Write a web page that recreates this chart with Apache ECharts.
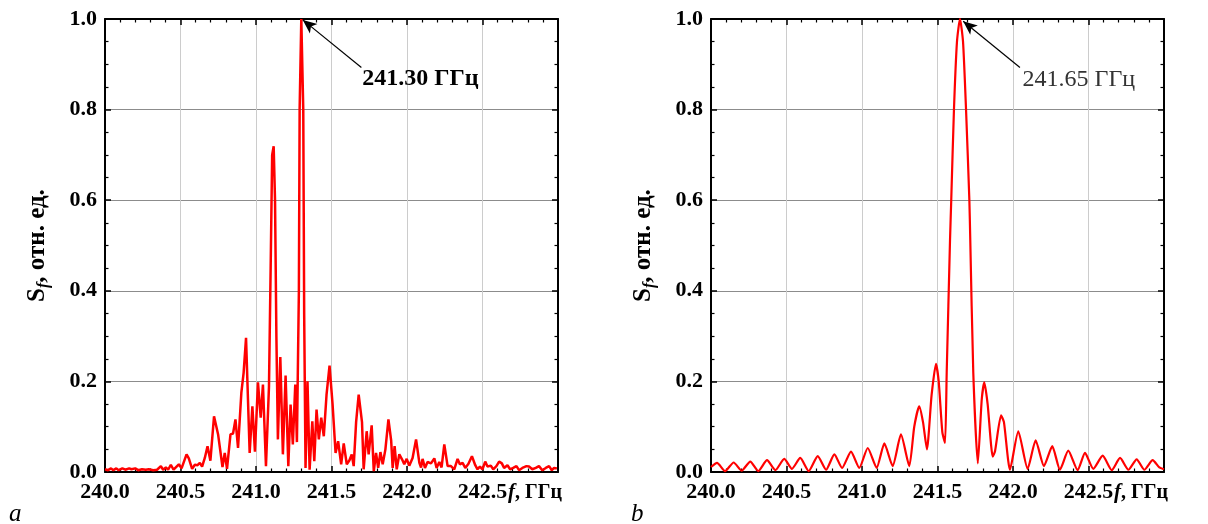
<!DOCTYPE html>
<html>
<head>
<meta charset="utf-8">
<script src="https://cdn.jsdelivr.net/npm/echarts@6/dist/echarts.min.js"></script>
<style>
  html, body { margin: 0; padding: 0; background: #fff; }
  #chart { width: 1208px; height: 524px; }
</style>
</head>
<body>
<div id="chart"></div>
<script>
// spectrum (a), frequency in GHz and relative amplitude
const freqA = [
  240.000,240.020,240.040,240.055,240.075,240.090,240.115,240.135,240.160,240.175,
  240.200,240.220,240.245,240.270,240.290,240.320,240.345,240.370,240.385,240.403,
  240.418,240.436,240.454,240.467,240.489,240.507,240.540,240.555,240.577,240.595,
  240.613,240.628,240.643,240.661,240.679,240.698,240.722,240.749,240.778,240.793,
  240.808,240.831,240.848,240.864,240.881,240.903,240.918,240.934,240.958,240.976,
  240.993,241.013,241.031,241.046,241.066,241.086,241.097,241.107,241.117,241.126,
  241.135,241.145,241.161,241.178,241.196,241.214,241.229,241.244,241.260,241.271,
  241.284,241.289,241.300,241.313,241.319,241.328,241.341,241.355,241.373,241.386,
  241.401,241.416,241.432,241.449,241.467,241.487,241.507,241.527,241.544,241.564,
  241.581,241.601,241.619,241.634,241.647,241.663,241.680,241.702,241.713,241.733,
  241.746,241.766,241.780,241.795,241.809,241.824,241.839,241.857,241.877,241.895,
  241.905,241.918,241.932,241.949,241.967,241.982,241.998,242.015,242.037,242.060,
  242.082,242.093,242.103,242.119,242.136,242.159,242.181,242.196,242.214,242.229,
  242.247,242.269,242.291,242.313,242.335,242.350,242.368,242.386,242.407,242.430,
  242.452,242.467,242.483,242.500,242.518,242.533,242.555,242.571,242.592,242.610,
  242.628,242.643,242.665,242.683,242.703,242.725,242.742,242.764,242.791,242.808,
  242.830,242.853,242.874,242.896,242.919,242.941,242.959,242.974,242.993
];
const specA = [
  0.006,0.004,0.008,0.004,0.008,0.004,0.008,0.005,0.008,0.006,
  0.008,0.004,0.006,0.005,0.006,0.004,0.005,0.013,0.005,0.010,
  0.005,0.016,0.005,0.007,0.017,0.008,0.039,0.030,0.007,0.016,
  0.015,0.020,0.012,0.031,0.057,0.025,0.123,0.083,0.011,0.042,
  0.007,0.083,0.085,0.116,0.053,0.175,0.219,0.296,0.042,0.145,
  0.045,0.198,0.120,0.193,0.013,0.189,0.450,0.700,0.719,0.600,
  0.300,0.072,0.254,0.039,0.213,0.013,0.149,0.061,0.193,0.066,
  0.400,0.800,1.000,0.800,0.350,0.009,0.200,0.005,0.112,0.024,
  0.138,0.072,0.120,0.079,0.170,0.235,0.150,0.042,0.068,0.017,
  0.063,0.017,0.026,0.039,0.013,0.110,0.171,0.110,0.006,0.090,
  0.039,0.103,0.002,0.042,0.009,0.044,0.017,0.050,0.116,0.070,
  0.009,0.057,0.006,0.039,0.028,0.017,0.029,0.014,0.031,0.072,
  0.020,0.010,0.029,0.009,0.022,0.019,0.030,0.009,0.022,0.010,
  0.061,0.013,0.013,0.006,0.029,0.017,0.020,0.009,0.018,0.035,
  0.015,0.006,0.012,0.006,0.023,0.012,0.014,0.006,0.013,0.023,
  0.019,0.009,0.015,0.006,0.009,0.013,0.004,0.009,0.013,0.012,
  0.006,0.009,0.013,0.004,0.009,0.013,0.004,0.009,0.008
];

// spectrum (b)
const freqB = [
  240.000,240.040,240.093,240.150,240.203,240.260,240.313,240.371,240.426,240.485,
  240.536,240.591,240.647,240.707,240.762,240.817,240.868,240.927,240.982,241.038,
  241.097,241.148,241.203,241.258,241.313,241.346,241.379,241.404,241.430,241.461,
  241.490,241.508,241.532,241.550,241.561,241.583,241.591,241.609,241.629,241.649,
  241.669,241.689,241.711,241.717,241.737,241.767,241.793,241.810,241.832,241.866,
  241.881,241.921,241.940,241.980,242.035,242.097,242.150,242.205,242.260,242.311,
  242.366,242.428,242.477,242.532,242.594,242.654,242.709,242.764,242.819,242.870,
  242.925,242.969,243.000
];
const specB = [
  0.011,0.020,0.002,0.021,0.003,0.023,0.002,0.026,0.004,0.029,
  0.007,0.031,0.002,0.035,0.005,0.039,0.009,0.045,0.009,0.053,
  0.009,0.063,0.013,0.083,0.013,0.100,0.145,0.110,0.050,0.170,
  0.239,0.200,0.088,0.064,0.220,0.513,0.600,0.800,0.950,1.000,
  0.950,0.800,0.600,0.513,0.219,0.019,0.160,0.198,0.150,0.034,
  0.046,0.125,0.110,0.005,0.090,0.007,0.070,0.013,0.057,0.005,
  0.047,0.004,0.042,0.007,0.036,0.004,0.031,0.005,0.028,0.005,
  0.026,0.010,0.006
];

const peakLabels = ['241.30 ГГц', '241.65 ГГц'];
const panelLetters = ['a', 'b'];

const serif = '"Liberation Serif", "Times New Roman", serif';
const chart = echarts.init(document.getElementById('chart'), null, { renderer: 'canvas' });

function xAxisPair(gi) {
  const common = {
    type: 'value', gridIndex: gi, min: 240, max: 243, interval: 0.5,
    axisLine: { onZero: false, lineStyle: { color: '#000', width: 2 } },
    axisTick: { inside: true, length: 6, lineStyle: { color: '#000', width: 1.5 } },
    minorTick: { show: true, splitNumber: 5, length: 3.5, lineStyle: { color: '#000', width: 1.2 } }
  };
  return [
    Object.assign({}, common, {
      position: 'bottom',
      splitLine: { show: true, lineStyle: { color: '#cccccc', width: 1 } },
      axisLabel: {
        color: '#000', fontFamily: serif, fontWeight: 'bold', fontSize: 22, margin: 9,
        interval: 0, showMaxLabel: false,
        formatter: v => v.toFixed(1)
      },
      // "f, ГГц" sits in the label row at the right end of the axis
      name: '{it|f}, ГГц',
      nameLocation: 'end',
      nameGap: 4,
      nameMoveOverlap: false,
      nameTextStyle: {
        color: '#000', fontFamily: serif, fontWeight: 'bold', fontSize: 20,
        align: 'right', verticalAlign: 'top', padding: [10, 0, 0, 0],
        rich: { it: { fontStyle: 'italic', fontWeight: 'bold', fontFamily: serif, fontSize: 21, color: '#000' } }
      }
    }),
    Object.assign({}, common, {
      position: 'top', axisLabel: { show: false }, splitLine: { show: false }
    })
  ];
}

function yAxisPair(gi) {
  const common = {
    type: 'value', gridIndex: gi, min: 0, max: 1, interval: 0.2,
    axisLine: { lineStyle: { color: '#000', width: 2 } },
    axisTick: { inside: true, length: 6, lineStyle: { color: '#000', width: 1.5 } },
    minorTick: { show: true, splitNumber: 4, length: 3.5, lineStyle: { color: '#000', width: 1.2 } }
  };
  const txt = { fontFamily: serif, fontWeight: 'bold', fontSize: 25, color: '#000' };
  return [
    Object.assign({}, common, {
      position: 'left',
      splitLine: { show: true, lineStyle: { color: '#8c8c8c', width: 1 } },
      axisLabel: { color: '#000', fontFamily: serif, fontWeight: 'bold', fontSize: 22, margin: 8,
        formatter: v => v.toFixed(1) },
      name: '{s|S}{sub|f}{n|, отн. ед.}',
      nameLocation: 'middle',
      nameGap: 53,
      nameTextStyle: {
        rich: {
          s: Object.assign({}, txt, { lineHeight: 28 }),
          sub: Object.assign({}, txt, { fontSize: 16, fontStyle: 'italic', verticalAlign: 'bottom', lineHeight: 16 }),
          n: Object.assign({}, txt, { lineHeight: 28 })
        }
      }
    }),
    Object.assign({}, common, {
      position: 'right', axisLabel: { show: false }, splitLine: { show: false }
    })
  ];
}

function annotation(tip, tail, textAt, label, bold) {
  return {
    markLine: {
      silent: true, animation: false,
      symbol: ['arrow', 'none'], symbolSize: [9, 14],
      label: { show: false },
      lineStyle: { color: '#000', width: 1.2, type: 'solid' },
      data: [[{ coord: tip }, { coord: tail }]]
    },
    markPoint: {
      silent: true, animation: false,
      symbol: 'circle', symbolSize: 1, itemStyle: { color: 'rgba(0,0,0,0)' },
      label: {
        show: true, position: 'right', distance: 0,
        formatter: label,
        fontFamily: serif, fontSize: 24,
        fontWeight: bold ? 'bold' : 'normal',
        color: bold ? '#000' : '#333'
      },
      data: [{ coord: textAt }]
    }
  };
}

const xs = xAxisPair(0).concat(xAxisPair(1));
const ys = yAxisPair(0).concat(yAxisPair(1));

const option = {
  animation: false,
  backgroundColor: '#fff',
  grid: [
    { left: 105, top: 19, width: 453, height: 453 },
    { left: 711, top: 19, width: 453, height: 453 }
  ],
  xAxis: xs,
  yAxis: ys,
  graphic: [
    { type: 'text', left: 9, top: 502, style: { text: panelLetters[0], font: 'italic 25px ' + serif, fill: '#000' } },
    { type: 'text', left: 631, top: 502, style: { text: panelLetters[1], font: 'italic 25px ' + serif, fill: '#000' } }
  ],
  series: [
    Object.assign({
      type: 'line', xAxisIndex: 0, yAxisIndex: 0,
      data: freqA.map((f, i) => [f, specA[i]]),
      showSymbol: false,
      lineStyle: { color: '#ff0000', width: 2.5 },
      z: 3
    }, annotation([241.31, 0.998], [241.698, 0.893], [241.70, 0.869], peakLabels[0], true)),
    Object.assign({
      type: 'line', xAxisIndex: 2, yAxisIndex: 2,
      data: freqB.map((f, i) => [f, specB[i]]),
      showSymbol: false,
      smooth: 0.2,
      lineStyle: { color: '#ff0000', width: 2.2 },
      z: 3
    }, annotation([241.67, 0.995], [242.046, 0.893], [242.06, 0.866], peakLabels[1], false))
  ]
};

chart.setOption(option);
</script>
</body>
</html>
